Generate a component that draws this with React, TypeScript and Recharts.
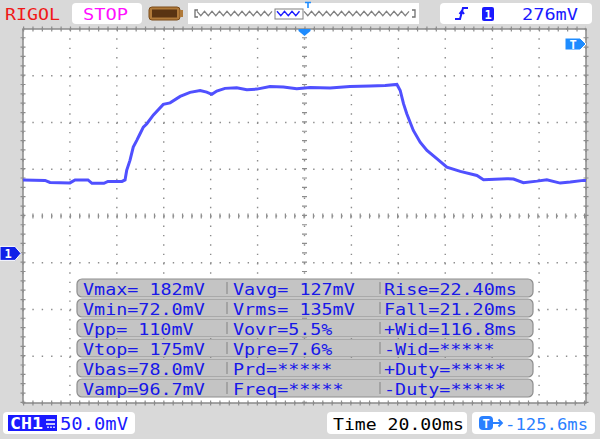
import React from 'react';
import { ComposedChart, Line, XAxis, YAxis, CartesianGrid, ReferenceLine, ReferenceArea } from 'recharts';

// time in ms from left edge of screen (12 div x 20 ms)
const timeMs = [
  0, 9.4, 11.5, 20.0, 22.2, 27.7, 29.4, 34.5, 36.2, 42.2, 43.5, 44.2, 45.6, 47.0, 48.5, 49.9,
  51.3, 52.8, 55.6, 59.8, 62.7, 67.0, 71.2, 75.5, 78.3, 80.5, 82.6, 86.1, 91.1, 95.4, 99.7,
  105.3, 111.0, 116.7, 122.4, 130.9, 139.4, 148.0, 154.4, 159.4, 160.8, 162.2, 163.6, 166.4,
  169.3, 172.2, 176.4, 180.7, 186.4, 193.5, 196.3, 206.3, 209.1, 213.3, 219.1, 223.3, 229.0,
  233.3, 238.9, 240,
];
// CH1 voltage in mV
const voltageMv = [
  78.6, 78.1, 75.9, 75.4, 78.6, 78.6, 74.9, 74.9, 77.0, 77.0, 78.6, 88.8, 99.5, 113.7, 120.9, 128.0,
  135.1, 138.7, 148.1, 159.4, 161.0, 167.9, 172.2, 174.3, 172.5, 170.1, 173.6, 176.5, 177.2, 175.1, 175.7,
  178.6, 177.9, 176.1, 177.5, 177.0, 178.6, 179.1, 179.7, 180.7, 174.3, 160.1, 149.4, 131.5,
  119.0, 110.2, 101.3, 92.3, 87.7, 83.4, 78.8, 79.9, 79.5, 75.6, 77.3, 78.8, 75.2,
  76.3, 78.1, 78.1,
];

const xTicks = [0, 20, 40, 60, 80, 100, 120, 140, 160, 180, 200, 220, 240];
const yTicks = [-160, -110, -60, -10, 40, 90, 140, 190, 240];
const xDomain = [0, 240];
const yDomain = [-160, 240];
const centerTime = 120;
const centerVolt = 40;
const groundVolt = 0;

const measureCol1 = ['Vmax= 182mV', 'Vmin=72.0mV', 'Vpp= 110mV', 'Vtop= 175mV', 'Vbas=78.0mV', 'Vamp=96.7mV'];
const measureCol2 = ['Vavg= 127mV', 'Vrms= 135mV', 'Vovr=5.5%', 'Vpre=7.6%', 'Prd=*****', 'Freq=*****'];
const measureCol3 = ['Rise=22.40ms', 'Fall=21.20ms', '+Wid=116.8ms', '-Wid=*****', '+Duty=*****', '-Duty=*****'];

const brandText = 'RIGOL';
const runState = 'STOP';
const trigLevelText = '276mV';
const channelLabel = 'CH1';
const voltsPerDiv = '50.0mV';
const timeBaseText = 'Time 20.00ms';
const trigOffsetText = '-125.6ms';

const data = timeMs.map((t, i) => ({ t, v: voltageMv[i] }));

const FONT = '"DejaVu Sans Mono", monospace';
const CW = 11.2;

const GroundMarker = (p: any) => {
  const vb = p.viewBox || {};
  const y = vb.y;
  const x0 = vb.x - 23;
  return (
    <g>
      <polygon points={`${x0},${y - 7} ${x0 + 15},${y - 7} ${x0 + 21},${y} ${x0 + 15},${y + 7} ${x0},${y + 7}`} fill="#1020e8" stroke="#ffffff" strokeWidth={1} />
      <text x={x0 + 8} y={y + 4.5} fill="#fff" fontFamily={FONT} fontWeight="bold" fontSize={12} textAnchor="middle">1</text>
    </g>
  );
};

const TrigTimeMarker = (p: any) => {
  const vb = p.viewBox || {};
  const x = vb.x;
  const y = vb.y;
  return <polygon points={`${x - 6},${y} ${x + 6},${y} ${x + 6},${y + 2} ${x},${y + 7} ${x - 6},${y + 2}`} fill="#1e8cff" />;
};

function zigzag(x1: number, x2: number, yc: number, amp: number, period: number) {
  const pts: string[] = [];
  let up = true;
  for (let x = x1; x <= x2; x += period / 2) {
    pts.push(`${x.toFixed(1)},${(up ? yc - amp : yc + amp).toFixed(1)}`);
    up = !up;
  }
  return pts.join(' ');
}

const Overlay = () => {
  const rowTop = 279;
  const rowH = 20;
  return (
    <svg width={600} height={439} style={{ position: 'absolute', left: 0, top: 0, pointerEvents: 'none' }}>
      {/* header */}
      <text x={5} y={19.5} fill="#f01818" fontFamily={FONT} fontSize={16} textLength={55} lengthAdjust="spacingAndGlyphs">{brandText}</text>
      <rect x={72} y={3} width={70} height={21} rx={4} fill="#fff" />
      <text x={83} y={20} fill="#ff10ff" fontFamily={FONT} fontSize={16} textLength={45} lengthAdjust="spacingAndGlyphs">{runState}</text>
      {/* battery */}
      <rect x={149} y={7} width={31} height={13} rx={3} fill="#b07a3a" stroke="#7a4a18" strokeWidth={1} />
      <rect x={152} y={9.5} width={25} height={8} fill="#5a3412" />
      <rect x={180} y={10} width={3} height={7} fill="#b07a3a" />
      {/* memory bar */}
      <rect x={188} y={3} width={231} height={21} fill="#fff" />
      <polyline points="198,10 195,10 195,17 198,17" fill="none" stroke="#707070" strokeWidth={1.3} />
      <polyline points="412,10 415,10 415,17 412,17" fill="none" stroke="#707070" strokeWidth={1.3} />
      <polyline points={zigzag(197, 275, 13.5, 2.2, 7.5)} fill="none" stroke="#808080" strokeWidth={1.2} />
      <polyline points={zigzag(304, 412, 13.5, 2.2, 7.5)} fill="none" stroke="#808080" strokeWidth={1.2} />
      <rect x={275} y={9} width={28} height={10} fill="#fff" stroke="#808080" strokeWidth={1} />
      <polyline points={zigzag(277, 301, 13.5, 2.2, 7.5)} fill="none" stroke="#1a1aff" strokeWidth={1.4} />
      <path d="M305,2.5 H311 M308,2.5 V8" stroke="#1e8cff" strokeWidth={1.6} />
      {/* trigger box */}
      <rect x={440} y={3} width={152} height={21} rx={4} fill="#fff" />
      <path d="M455,19 H460 L463,8 H468 M459.5,14 L461.8,11 L464,14" fill="none" stroke="#1a1aff" strokeWidth={2} />
      <rect x={482} y={7} width={12} height={14} rx={2} fill="#1a1aff" />
      <text x={488} y={18.5} fill="#fff" fontFamily={FONT} fontWeight="bold" fontSize={12} textAnchor="middle">1</text>
      <text x={522} y={20} fill="#1a1aff" fontFamily={FONT} fontSize={16} textLength={56} lengthAdjust="spacingAndGlyphs">{trigLevelText}</text>
      {/* right trigger level marker */}
      <polygon points="565,38 580,38 586,44 580,50 565,50" fill="#1e8cff" stroke="#fff" strokeWidth={1} />
      <text x={573} y={48.5} fill="#fff" fontFamily={FONT} fontWeight="bold" fontSize={12} textAnchor="middle">T</text>
      {/* measurement table */}
      {measureCol1.map((s, i) => {
        const y = rowTop + i * rowH;
        return (
          <g key={i}>
            <rect x={77} y={y} width={456} height={18} rx={5} fill="#c4c4c4" stroke="#8e8e8e" strokeWidth={1.2} />
            <line x1={227} y1={y + 3} x2={227} y2={y + 15} stroke="#8e8e8e" strokeWidth={1.2} />
            <line x1={380} y1={y + 3} x2={380} y2={y + 15} stroke="#8e8e8e" strokeWidth={1.2} />
            <text x={83} y={y + 15.5} fill="#1818e8" fontFamily={FONT} fontSize={16} textLength={s.length * CW - 1.5} lengthAdjust="spacingAndGlyphs">{s}</text>
            <text x={233} y={y + 15.5} fill="#1818e8" fontFamily={FONT} fontSize={16} textLength={measureCol2[i].length * CW - 1.5} lengthAdjust="spacingAndGlyphs">{measureCol2[i]}</text>
            <text x={384} y={y + 15.5} fill="#1818e8" fontFamily={FONT} fontSize={16} textLength={measureCol3[i].length * CW - 1.5} lengthAdjust="spacingAndGlyphs">{measureCol3[i]}</text>
          </g>
        );
      })}
      {/* footer */}
      <rect x={3} y={412} width={132} height={22} rx={4} fill="#fff" />
      <rect x={8} y={415} width={49} height={16} fill="#1a1aff" />
      <text x={10} y={429} fill="#fff" fontFamily={FONT} fontWeight="bold" fontSize={15} textLength={33} lengthAdjust="spacingAndGlyphs">{channelLabel}</text>
      <path d="M46,420 H55 M46,424 H55 M48,426.5 V428 M51,426.5 V428 M54,426.5 V428" stroke="#fff" strokeWidth={1.5} />
      <text x={60} y={430} fill="#1a1aff" fontFamily={FONT} fontSize={17} textLength={68} lengthAdjust="spacingAndGlyphs">{voltsPerDiv}</text>
      <rect x={327} y={412} width={140} height={22} rx={4} fill="#fff" />
      <text x={333} y={429.5} fill="#000" fontFamily={FONT} fontSize={16} textLength={131} lengthAdjust="spacingAndGlyphs">{timeBaseText}</text>
      <rect x={472} y={412} width={123} height={22} rx={4} fill="#fff" />
      <rect x={479} y={416} width={14} height={14} rx={4} fill="#2a80ff" />
      <text x={486} y={427.5} fill="#fff" fontFamily={FONT} fontWeight="bold" fontSize={12} textAnchor="middle">T</text>
      <path d="M493,423 H502 M498.5,419.5 L502,423 L498.5,426.5" fill="none" stroke="#2a80ff" strokeWidth={1.8} />
      <text x={505} y={429.5} fill="#2a80ff" fontFamily={FONT} fontSize={16} textLength={83} lengthAdjust="spacingAndGlyphs">{trigOffsetText}</text>
    </svg>
  );
};

export default function App() {
  return (
    <div style={{ position: 'absolute', left: 0, top: 0, width: 600, height: 439, background: '#d9d9d9', overflow: 'hidden' }}>
      <ComposedChart width={600} height={439} data={data} margin={{ top: 29, right: 14, bottom: 36, left: 23 }}>
        <CartesianGrid fill="#ffffff" stroke="#8c8c8c" strokeWidth={1.4} strokeDasharray="1.4 7.96" />
        <XAxis type="number" dataKey="t" domain={xDomain} ticks={xTicks} hide />
        <YAxis type="number" domain={yDomain} ticks={yTicks} hide />
        <ReferenceLine y={centerVolt} stroke="#8c8c8c" strokeWidth={5} strokeDasharray="1.2 8.15" />
        <ReferenceLine x={centerTime} stroke="#8c8c8c" strokeWidth={5} strokeDasharray="1.2 8.15" />
        <ReferenceLine y={yDomain[1]} stroke="#8c8c8c" strokeWidth={5} strokeDasharray="1.2 8.18" />
        <ReferenceLine y={yDomain[0]} stroke="#8c8c8c" strokeWidth={5} strokeDasharray="1.2 8.15" />
        <ReferenceLine x={xDomain[0]} stroke="#8c8c8c" strokeWidth={5} strokeDasharray="1.2 8.15" />
        <ReferenceLine x={xDomain[1]} stroke="#8c8c8c" strokeWidth={5} strokeDasharray="1.2 8.15" />
        <ReferenceArea x1={xDomain[0]} x2={xDomain[1]} y1={yDomain[0]} y2={yDomain[1]} fill="none" stroke="#8a8a8a" strokeWidth={1.5} fillOpacity={0} />
        <Line type="linear" dataKey="v" stroke="#5050ff" strokeWidth={3} dot={false} isAnimationActive={false} />
        <ReferenceLine y={groundVolt} stroke="none" label={(p: any) => <GroundMarker {...p} />} />
        <ReferenceLine x={centerTime} stroke="none" label={(p: any) => <TrigTimeMarker {...p} />} />
      </ComposedChart>
      <Overlay />
    </div>
  );
}
